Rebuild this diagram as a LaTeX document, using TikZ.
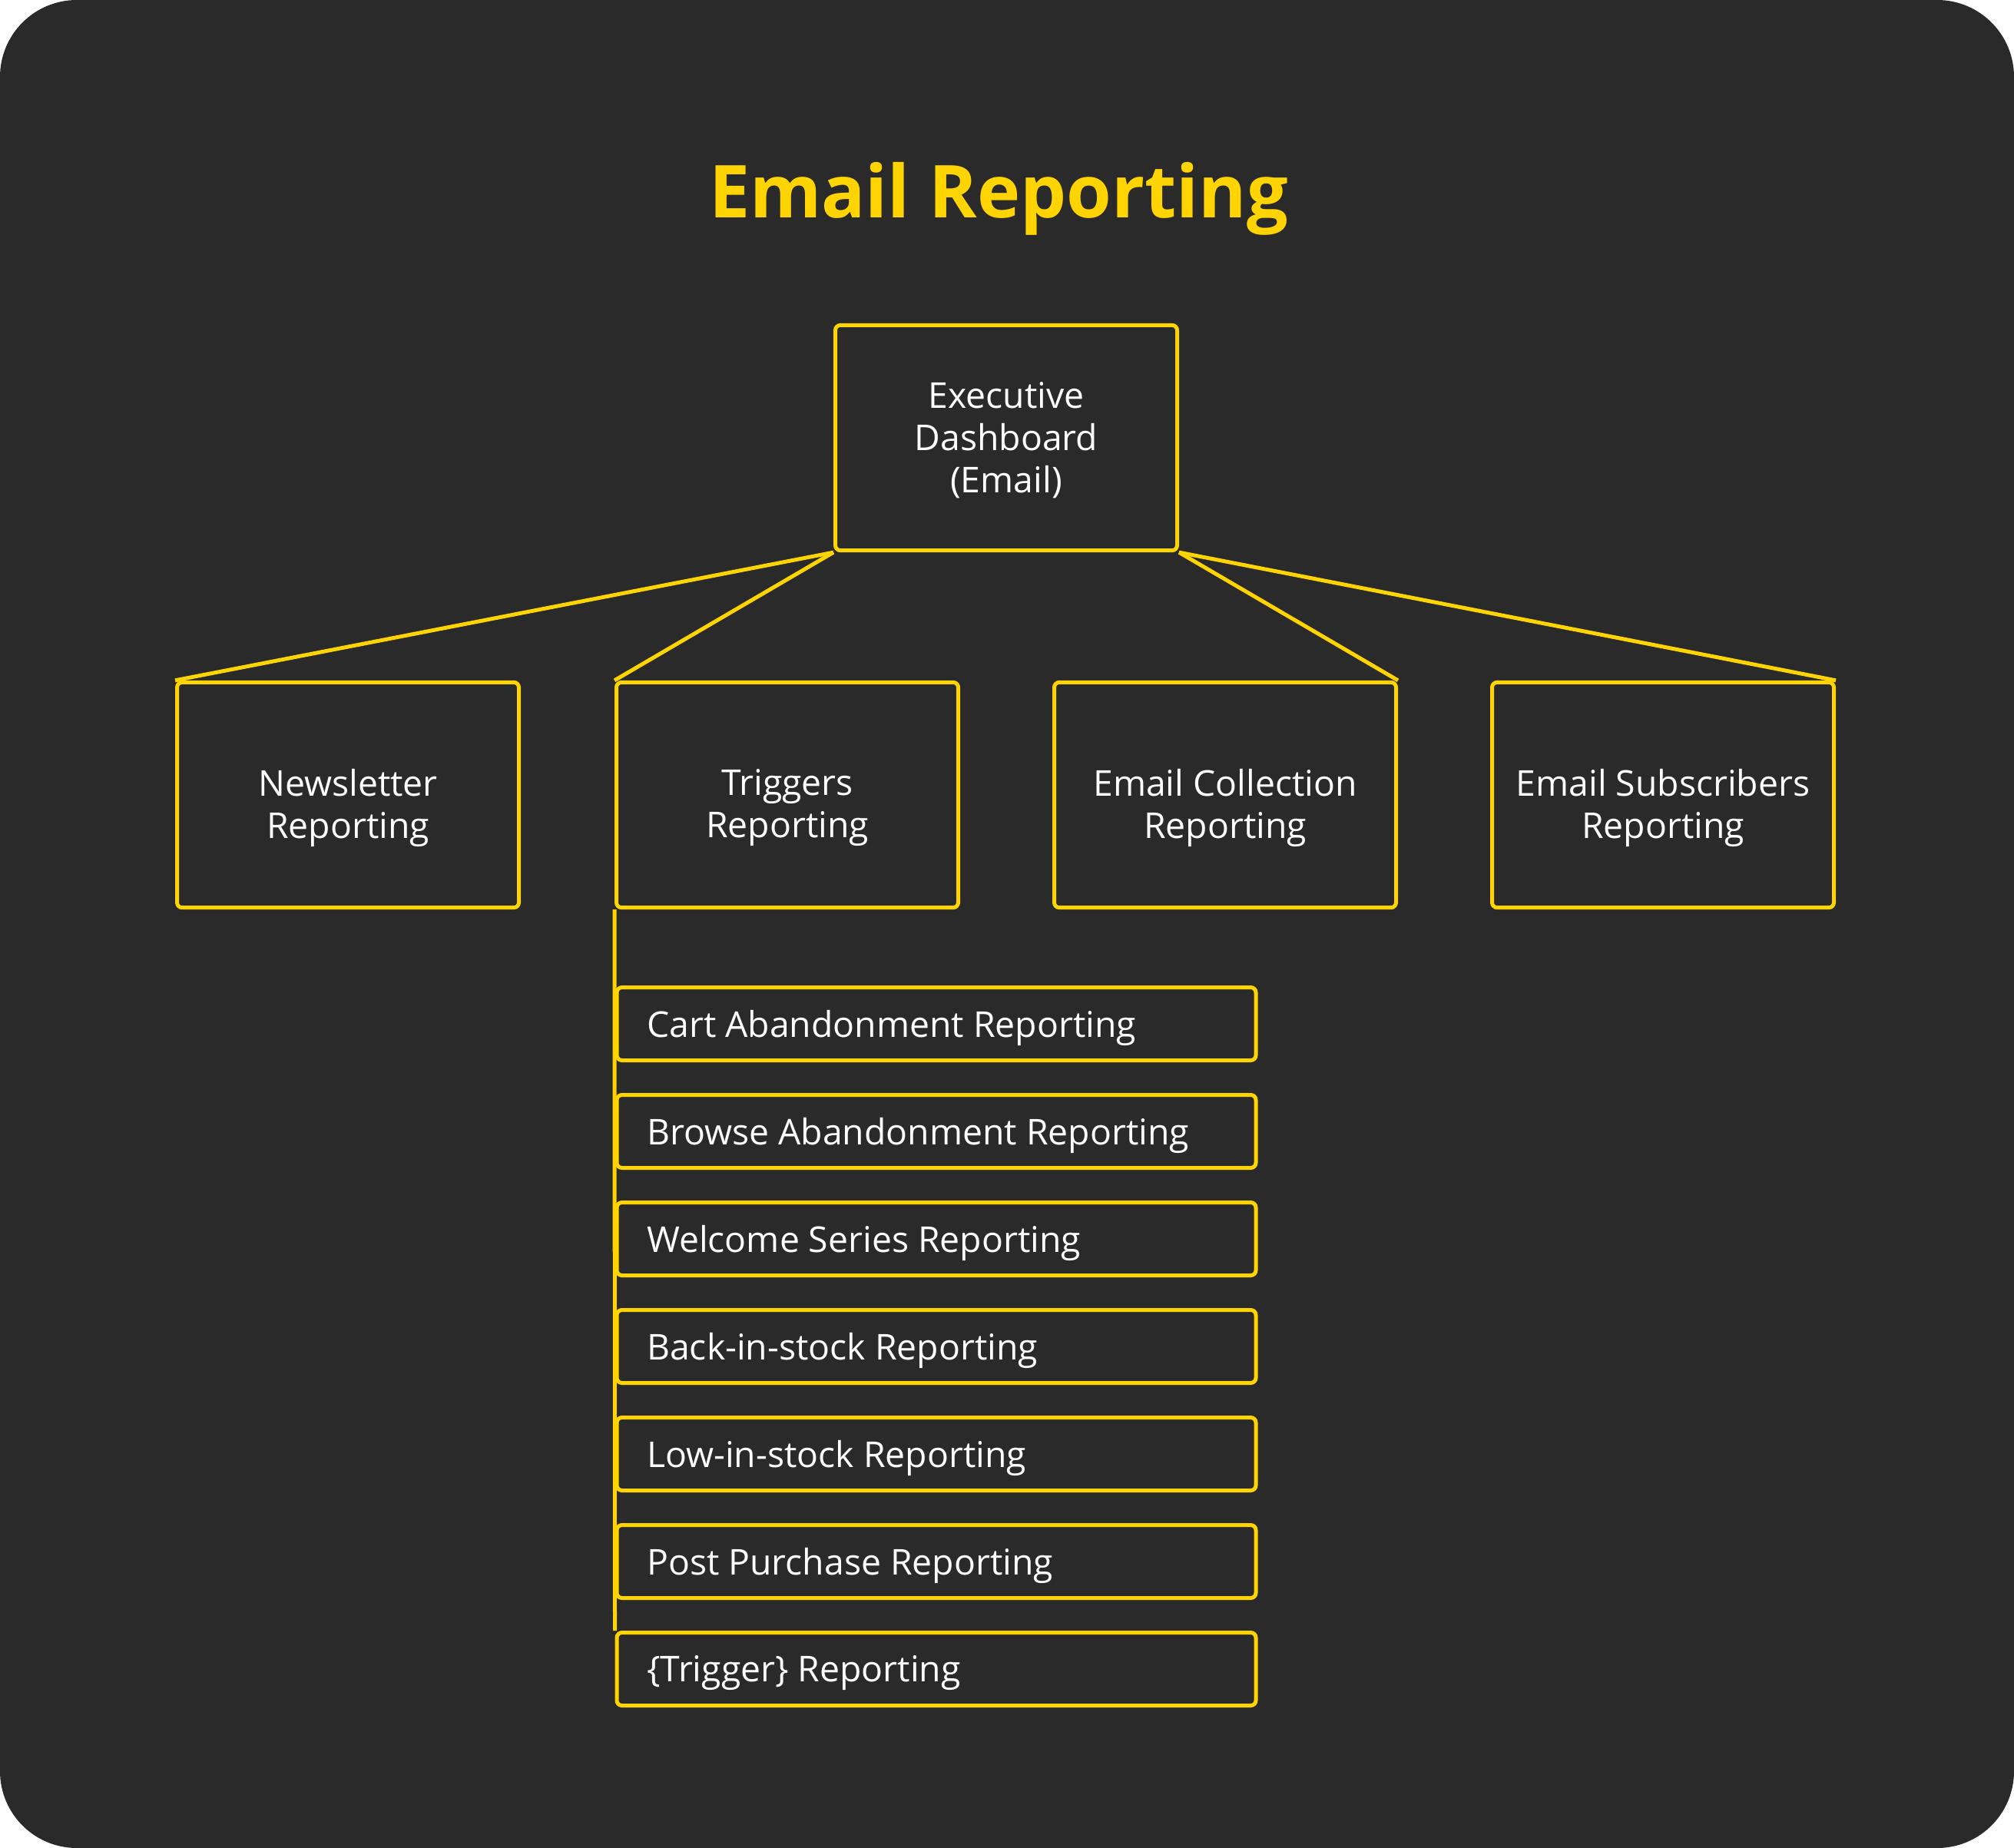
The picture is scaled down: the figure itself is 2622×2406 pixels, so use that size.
\documentclass[tikz,border=0pt]{standalone}
\usepackage{fontspec}
\setmainfont{Open Sans}
\definecolor{bgc}{HTML}{2A2A2A}
\definecolor{ylw}{HTML}{FFD400}
\begin{document}
\begin{tikzpicture}[x=0.3pt,y=-0.3pt,
  txt/.style={text=white, font=\fontsize{13.9}{16.5}\selectfont, align=center, inner sep=0pt},
  box/.style={draw=ylw, line width=1.5pt, rounded corners=2pt, inner sep=0pt},
  topbox/.style={box, minimum width=133.5pt, minimum height=88pt},
  kid/.style={box, minimum width=249.6pt, minimum height=28.5pt},
  link/.style={draw=ylw, line width=1.5pt}]
\fill[white] (0,0) rectangle (2622,2406);
\fill[bgc, rounded corners=30pt] (0,0) rectangle (2622,2406);
\useasboundingbox (0,0) rectangle (2622,2406);
\node[text=ylw, font=\fontsize{28.5}{34}\selectfont\bfseries] (title) at (1300,259) {Email Reporting};
\node[topbox, label={[txt, yshift=-1pt]center:Executive\\Dashboard\\(Email)}] (exec) at (1310,570) {};
\node[topbox, label={[txt, yshift=-5pt]center:Newsletter\\Reporting}] (news) at (453,1035) {};
\node[topbox, label={[txt, yshift=-5pt]center:Triggers\\Reporting}] (trig) at (1025,1035) {};
\node[topbox, label={[txt, yshift=-5pt]center:Email Collection\\Reporting}] (coll) at (1595,1035) {};
\node[topbox, label={[txt, yshift=-5pt]center:Email Subscribers\\Reporting}] (subs) at (2165,1035) {};
\foreach \t [count=\i from 0] in {Cart Abandonment Reporting, Browse Abandonment Reporting, Welcome Series Reporting, Back-in-stock Reporting, Low-in-stock Reporting, Post Purchase Reporting, \{Trigger\} Reporting}
  \node[kid, label={[txt, anchor=west, xshift=12.3pt, yshift=-1.5pt]west:\t}] (k\i) at (1219,1333+140*\i) {};
\draw[link] (exec.south west) -- (news.north west);
\draw[link] (exec.south west) -- (trig.north west);
\draw[link] (exec.south east) -- (coll.north east);
\draw[link] (exec.south east) -- (subs.north east);
\draw[link] (trig.south west) -- (k6.north west);
\end{tikzpicture}
\end{document}
